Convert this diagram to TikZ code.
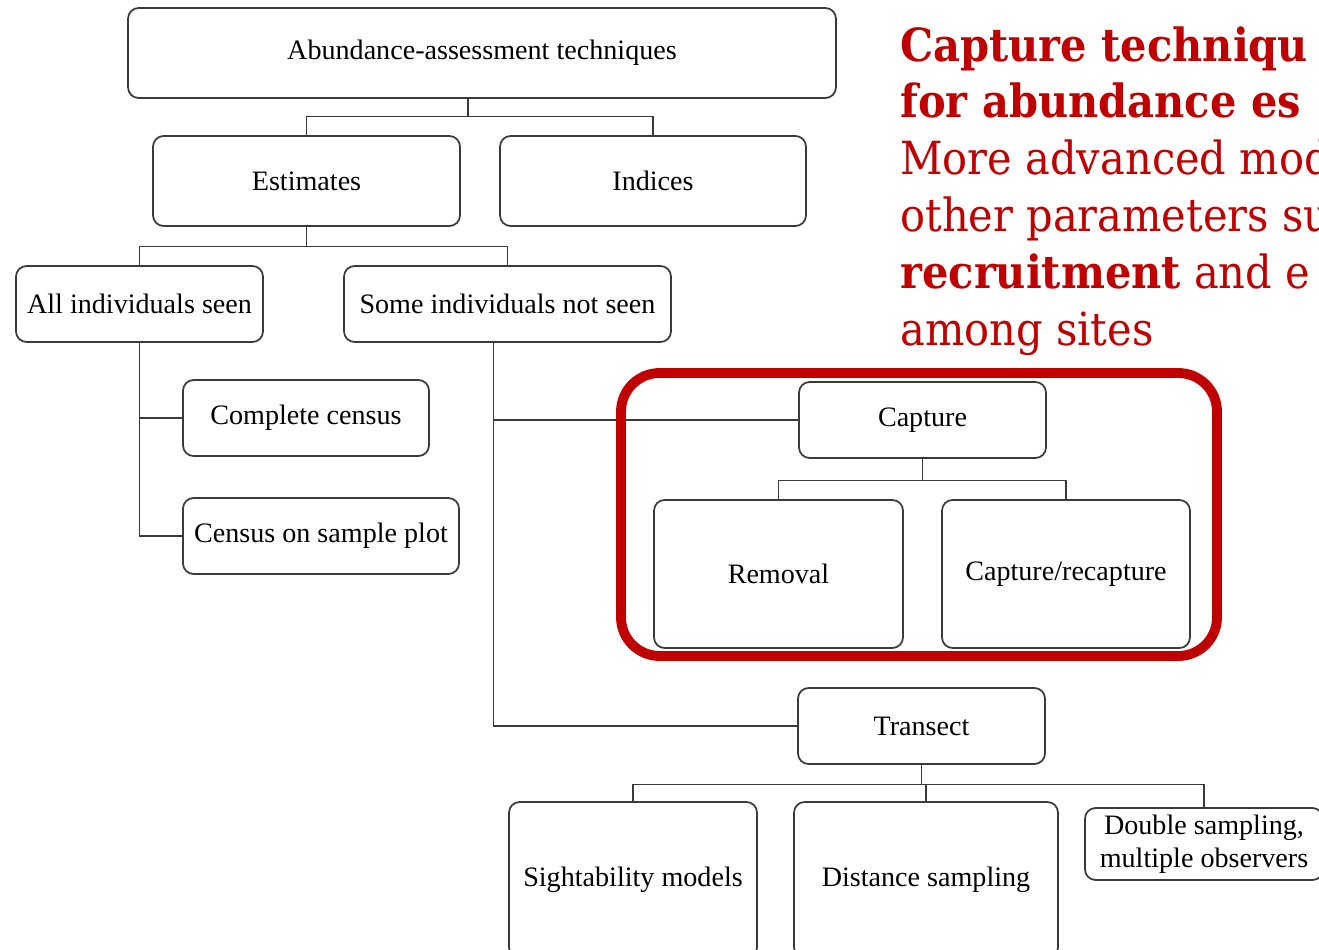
\documentclass[tikz,border=0pt]{standalone}
\usepackage{fontspec}
\setmainfont{Liberation Serif}
\newfontfamily\slidefont[FakeStretch=0.91]{DejaVu Serif}
\usetikzlibrary{positioning}
\usepackage{xcolor}
\definecolor{slidered}{HTML}{C00000}
\definecolor{boxline}{HTML}{3A3A3A}

\begin{document}
\begin{tikzpicture}[x=0.02cm, y=-0.02cm,
        box/.style={draw=boxline, line width=1pt, rounded corners=6pt, align=center, inner sep=0pt, font=\fontsize{16}{19}\selectfont},
        link/.style={draw=boxline, line width=0.7pt},
        frame/.style={draw=slidered, line width=5.6pt, rounded corners=22pt},
        slide/.style={text=slidered, align=left, inner sep=0pt, font=\slidefont\fontsize{26}{32.4}\selectfont}
    ]
        \useasboundingbox (0,0) rectangle (1319,950);
        \clip (0,0) rectangle (1319,950);

        % Define nodes for the technique tree
        \node[box, minimum width=14.16cm, minimum height=1.8cm] (abund) at (482,53) {Abundance-assessment techniques};
        \node[box, minimum width=6.14cm, minimum height=1.8cm] (est) at (306.5,181) {Estimates};
        \node[box, minimum width=6.12cm, minimum height=1.8cm] (ind) at (653,181) {Indices};
        \node[box, minimum width=4.94cm, minimum height=1.52cm] (allseen) at (139.5,304) {All individuals seen};
        \node[box, minimum width=6.54cm, minimum height=1.52cm] (notseen) at (507.5,304) {Some individuals not seen};
        \node[box, minimum width=4.92cm, minimum height=1.52cm] (census) at (306,418) {Complete census};
        \node[box, minimum width=5.52cm, minimum height=1.52cm] (plot) at (321,536) {Census on sample plot};
        \node[box, minimum width=4.94cm, minimum height=1.52cm] (capture) at (922.5,420) {Capture};
        \node[box, minimum width=4.98cm, minimum height=2.96cm] (removal) at (778.5,574) {Removal};
        \node[box, minimum width=4.96cm, minimum height=2.96cm] (recap) at (1066,574) {Capture/recapture};
        \node[box, minimum width=4.94cm, minimum height=1.52cm] (transect) at (921.5,726) {Transect};
        \node[box, minimum width=4.96cm, minimum height=3.12cm] (sight) at (633,880) {Sightability models};
        \node[box, minimum width=5.28cm, minimum height=3.12cm] (distance) at (926,880) {Distance sampling};
        \node[box, minimum width=4.76cm, minimum height=1.44cm] (double) at (1204,844) {Double sampling,\\ multiple observers};

        % Tree connectors
        \draw[link] (abund.south) ++(-14,0) -- ++(0,18) coordinate (j1) -| (est.north);
        \draw[link] (j1) -| (ind.north);
        \draw[link] (est.south) -- ++(0,20) coordinate (j2) -| (allseen.north);
        \draw[link] (j2) -| (notseen.north);
        \draw[link] (allseen.south) |- (census.west);
        \draw[link] (allseen.south) |- (plot.west);
        \draw[link] (notseen.south) ++(-14,0) coordinate (j3) |- (capture.west);
        \draw[link] (j3) |- (transect.west);
        \draw[link] (capture.south) -- ++(0,22) coordinate (j4) -| (removal.north);
        \draw[link] (j4) -| (recap.north);
        \draw[link] (transect.south) -- ++(0,20) coordinate (j5) -| (sight.north);
        \draw[link] (j5) -| (distance.north);
        \draw[link] (j5) -| (double.north);

        % Highlight round the capture branch
        \draw[frame] (621,373) rectangle (1217,656);

        % Slide text
        \node[slide, anchor=north west] (note) at (900,26) {\textbf{Capture techniqu}\\
            \textbf{for abundance es}\\
            More advanced mod\\
            other parameters su\\
            \textbf{recruitment} and e\\
            among sites};

    \end{tikzpicture}
\end{document}
